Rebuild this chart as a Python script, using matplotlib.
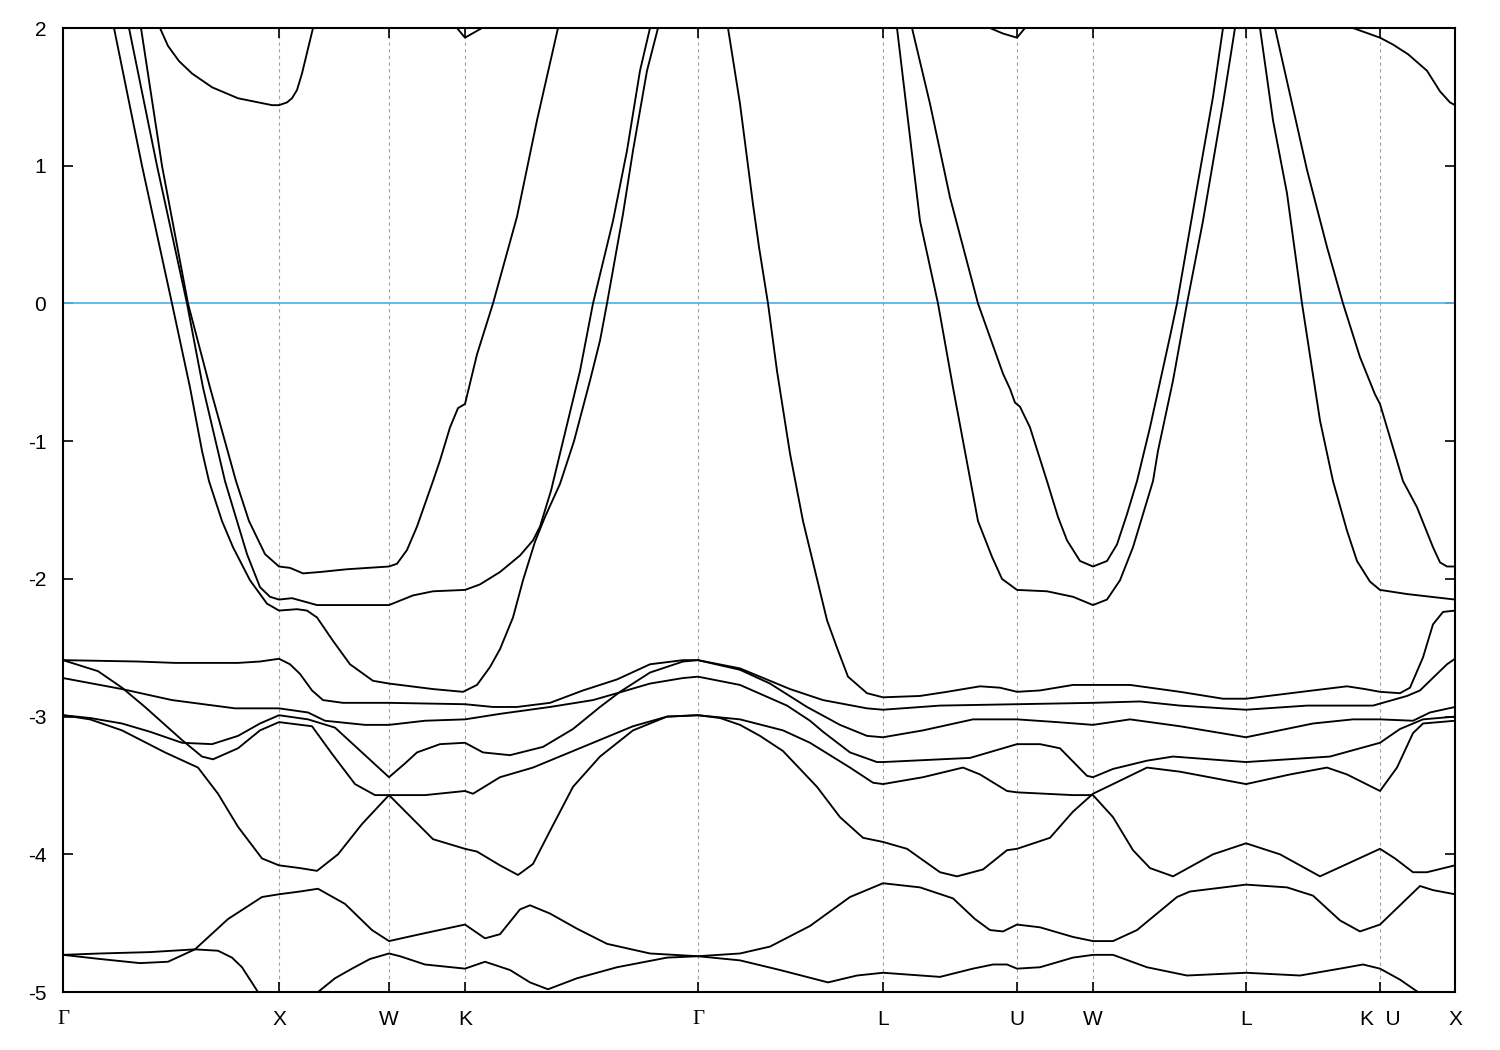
import numpy as np
import matplotlib.pyplot as plt

plt.rcParams['font.family'] = ['Liberation Sans', 'DejaVu Sans']
plt.rcParams['axes.unicode_minus'] = False

# high-symmetry points along the path (k-distance, arbitrary units)
kpath_pos = [0, 216, 326, 402, 635, 820, 954, 1030, 1183, 1317, 1392]
kpath_lab = ['Γ', 'X', 'W', 'K', 'Γ', 'L', 'U', 'W', 'L', 'K  U', 'X']

e_min, e_max = -5, 2
fermi = 0.0

# bands: (k, E [eV])
band_01 = [(0, -4.73), (37, -4.72), (87, -4.71), (132, -4.69), (155, -4.70), (169, -4.75),
           (179, -4.82), (195, -5.0), (225, -5.25), (255, -5.0), (272, -4.90), (289, -4.83),
           (307, -4.76), (326, -4.72), (337, -4.74), (362, -4.80), (402, -4.83), (422, -4.78),
           (447, -4.84), (467, -4.93), (485, -4.98), (514, -4.90), (554, -4.82), (604, -4.75),
           (635, -4.74), (677, -4.77), (717, -4.84), (765, -4.93), (794, -4.88), (820, -4.86),
           (877, -4.89), (910, -4.83), (930, -4.80), (944, -4.80), (954, -4.83), (977, -4.82),
           (1010, -4.75), (1030, -4.73), (1050, -4.73), (1084, -4.82), (1124, -4.88),
           (1183, -4.86), (1237, -4.88), (1277, -4.83), (1300, -4.80), (1317, -4.83),
           (1337, -4.91), (1355, -5.0), (1392, -5.2)]

band_02 = [(0, -4.73), (37, -4.76), (77, -4.79), (105, -4.78), (132, -4.69), (165, -4.47),
           (199, -4.31), (216, -4.29), (237, -4.27), (255, -4.25), (282, -4.36), (309, -4.55),
           (326, -4.63), (357, -4.58), (402, -4.51), (422, -4.61), (437, -4.58), (447, -4.49),
           (457, -4.40), (467, -4.37), (487, -4.43), (514, -4.54), (544, -4.65), (587, -4.72),
           (635, -4.74), (677, -4.72), (707, -4.67), (747, -4.52), (787, -4.31), (820, -4.21),
           (857, -4.24), (890, -4.32), (912, -4.47), (927, -4.55), (940, -4.56), (954, -4.51),
           (977, -4.53), (1010, -4.60), (1030, -4.63), (1050, -4.63), (1074, -4.55),
           (1114, -4.31), (1127, -4.27), (1183, -4.22), (1224, -4.24), (1250, -4.30),
           (1277, -4.48), (1297, -4.56), (1317, -4.51), (1337, -4.37), (1357, -4.23),
           (1370, -4.26), (1392, -4.29)]

band_03 = [(0, -2.99), (27, -3.02), (59, -3.10), (102, -3.26), (135, -3.37), (155, -3.56),
           (175, -3.80), (199, -4.03), (216, -4.08), (237, -4.10), (254, -4.12), (275, -4.00),
           (299, -3.78), (326, -3.57), (337, -3.65), (370, -3.89), (402, -3.96), (414, -3.98),
           (437, -4.08), (455, -4.15), (470, -4.07), (487, -3.83), (510, -3.51), (537, -3.29),
           (570, -3.10), (604, -3.00), (635, -2.99), (657, -3.01), (677, -3.06), (697, -3.14),
           (720, -3.25), (754, -3.51), (777, -3.73), (800, -3.88), (820, -3.91), (844, -3.96),
           (877, -4.13), (894, -4.16), (920, -4.11), (944, -3.97), (954, -3.96), (987, -3.88),
           (1010, -3.69), (1030, -3.56), (1050, -3.49), (1084, -3.37), (1117, -3.40),
           (1183, -3.49), (1227, -3.42), (1264, -3.37), (1284, -3.42), (1317, -3.54),
           (1334, -3.37), (1350, -3.12), (1360, -3.05), (1392, -3.03)]

band_04 = [(0, -2.59), (35, -2.67), (59, -2.79), (82, -2.93), (119, -3.17), (139, -3.29),
           (150, -3.31), (175, -3.23), (197, -3.10), (216, -3.04), (249, -3.07), (269, -3.27),
           (292, -3.49), (312, -3.57), (326, -3.57), (362, -3.57), (402, -3.54), (410, -3.56),
           (437, -3.44), (470, -3.37), (520, -3.22), (570, -3.07), (604, -3.00), (635, -2.99),
           (677, -3.02), (720, -3.10), (747, -3.19), (787, -3.37), (810, -3.48), (820, -3.49),
           (860, -3.44), (900, -3.37), (917, -3.42), (944, -3.54), (954, -3.55), (1010, -3.57),
           (1030, -3.57), (1050, -3.73), (1070, -3.97), (1087, -4.10), (1110, -4.16),
           (1150, -4.00), (1183, -3.92), (1217, -4.00), (1257, -4.16), (1284, -4.07),
           (1317, -3.96), (1332, -4.03), (1350, -4.13), (1364, -4.13), (1392, -4.08)]

band_05 = [(0, -2.99), (27, -3.01), (59, -3.05), (87, -3.11), (119, -3.19), (149, -3.20),
           (175, -3.14), (197, -3.05), (216, -2.99), (245, -3.02), (272, -3.08), (299, -3.26),
           (326, -3.44), (342, -3.34), (354, -3.26), (377, -3.20), (402, -3.19), (420, -3.26),
           (447, -3.28), (480, -3.22), (510, -3.09), (537, -2.93), (557, -2.82), (587, -2.68),
           (620, -2.60), (635, -2.59), (677, -2.66), (707, -2.76), (744, -2.93), (777, -3.06),
           (804, -3.14), (820, -3.15), (860, -3.10), (910, -3.02), (954, -3.02), (994, -3.04),
           (1030, -3.06), (1067, -3.02), (1117, -3.07), (1183, -3.15), (1250, -3.05),
           (1290, -3.02), (1317, -3.02), (1350, -3.03), (1367, -2.97), (1392, -2.93)]

band_06 = [(0, -2.72), (59, -2.80), (109, -2.88), (172, -2.94), (216, -2.94), (245, -2.97),
           (262, -3.03), (302, -3.06), (326, -3.06), (362, -3.03), (402, -3.02), (437, -2.98),
           (487, -2.93), (530, -2.88), (554, -2.83), (587, -2.76), (620, -2.72), (635, -2.71),
           (677, -2.77), (724, -2.92), (747, -3.03), (760, -3.11), (787, -3.26), (814, -3.33),
           (820, -3.33), (907, -3.30), (954, -3.20), (977, -3.20), (997, -3.23), (1024, -3.43),
           (1030, -3.44), (1050, -3.38), (1084, -3.32), (1110, -3.29), (1183, -3.33),
           (1267, -3.29), (1317, -3.19), (1337, -3.09), (1360, -3.02), (1392, -3.00)]

band_07 = [(0, -2.59), (75, -2.60), (112, -2.61), (175, -2.61), (197, -2.60), (216, -2.58),
           (227, -2.62), (237, -2.69), (249, -2.81), (260, -2.88), (280, -2.90), (326, -2.90),
           (402, -2.91), (430, -2.93), (454, -2.93), (487, -2.90), (520, -2.81), (554, -2.73),
           (587, -2.62), (620, -2.59), (635, -2.59), (677, -2.65), (727, -2.80), (760, -2.88),
           (804, -2.94), (820, -2.95), (877, -2.92), (954, -2.91), (1030, -2.90), (1077, -2.89),
           (1117, -2.92), (1160, -2.94), (1183, -2.95), (1244, -2.92), (1310, -2.92),
           (1344, -2.85), (1357, -2.81), (1374, -2.69), (1384, -2.62), (1392, -2.58)]

band_08 = [(45, 2.2), (51, 2.0), (79, 1.0), (109, 0.0), (127, -0.61), (139, -1.07),
           (146, -1.29), (159, -1.58), (170, -1.77), (187, -2.01), (204, -2.18), (216, -2.23),
           (234, -2.22), (244, -2.23), (254, -2.28), (270, -2.45), (287, -2.62), (310, -2.74),
           (326, -2.76), (370, -2.80), (400, -2.82), (414, -2.77), (427, -2.64), (437, -2.51),
           (450, -2.28), (460, -2.01), (472, -1.73), (482, -1.55), (497, -1.31), (511, -1.00),
           (527, -0.56), (537, -0.27), (544, 0.0), (560, 0.65), (570, 1.11), (584, 1.69),
           (595, 2.0), (599, 2.2)]

band_09 = [(61, 2.2), (66, 2.0), (94, 1.0), (124, 0.0), (140, -0.61), (162, -1.29),
           (174, -1.58), (184, -1.82), (197, -2.06), (207, -2.13), (216, -2.15), (229, -2.14),
           (254, -2.19), (326, -2.19), (350, -2.12), (370, -2.09), (402, -2.08), (417, -2.04),
           (437, -1.95), (457, -1.83), (470, -1.72), (477, -1.62), (488, -1.36), (500, -1.00),
           (517, -0.49), (530, 0.0), (550, 0.60), (564, 1.11), (577, 1.69), (587, 2.0),
           (591, 2.2)]

band_10 = [(73, 2.2), (78, 2.0), (99, 1.0), (125, 0.0), (147, -0.61), (173, -1.29),
           (186, -1.58), (202, -1.82), (216, -1.91), (227, -1.92), (240, -1.96), (257, -1.95),
           (284, -1.93), (326, -1.91), (334, -1.89), (344, -1.79), (354, -1.62), (370, -1.29),
           (377, -1.14), (387, -0.90), (395, -0.76), (402, -0.73), (414, -0.37), (430, 0.0),
           (454, 0.63), (474, 1.33), (495, 2.0), (500, 2.2)]

band_11 = [(93, 2.15), (97, 2.0), (105, 1.87), (116, 1.76), (129, 1.67), (149, 1.57),
           (175, 1.49), (209, 1.44), (216, 1.44), (224, 1.46), (229, 1.49), (234, 1.55),
           (239, 1.67), (250, 2.0), (253, 2.15)]

band_12 = [(389, 2.15), (394, 2.0), (402, 1.93), (419, 2.0), (432, 2.08)]

band_13 = [(917, 2.05), (927, 2.0), (940, 1.96), (954, 1.93), (962, 2.0), (967, 2.1)]

band_14 = [(1277, 2.05), (1290, 2.0), (1317, 1.93), (1330, 1.88), (1345, 1.81),
           (1364, 1.69), (1377, 1.54), (1387, 1.46), (1392, 1.44)]

band_15 = [(663, 2.15), (665, 2.0), (677, 1.45), (690, 0.72), (696, 0.41), (705, 0.0),
           (714, -0.49), (727, -1.09), (740, -1.58), (764, -2.30), (774, -2.50), (785, -2.71),
           (804, -2.83), (820, -2.86), (857, -2.85), (884, -2.82), (917, -2.78), (937, -2.79),
           (954, -2.82), (977, -2.81), (1010, -2.77), (1030, -2.77), (1067, -2.77),
           (1117, -2.82), (1160, -2.87), (1183, -2.87), (1250, -2.81), (1284, -2.78),
           (1302, -2.80), (1317, -2.82), (1337, -2.83), (1347, -2.79), (1360, -2.57),
           (1370, -2.33), (1380, -2.24), (1392, -2.23)]

band_16 = [(831, 2.2), (834, 2.0), (857, 0.60), (875, 0.0), (890, -0.61), (915, -1.58),
           (929, -1.84), (939, -2.00), (954, -2.08), (984, -2.09), (1010, -2.13), (1030, -2.19),
           (1044, -2.15), (1057, -2.01), (1070, -1.77), (1080, -1.53), (1090, -1.29),
           (1095, -1.07), (1110, -0.56), (1124, 0.0), (1140, 0.60), (1160, 1.45), (1172, 2.0),
           (1176, 2.2)]

band_17 = [(846, 2.2), (849, 2.0), (867, 1.45), (887, 0.77), (915, 0.0), (940, -0.51),
           (947, -0.62), (952, -0.72), (957, -0.75), (967, -0.90), (984, -1.29), (995, -1.55),
           (1004, -1.72), (1017, -1.87), (1030, -1.91), (1044, -1.87), (1054, -1.75),
           (1064, -1.53), (1074, -1.29), (1087, -0.90), (1107, -0.24), (1114, 0.0),
           (1134, 0.84), (1150, 1.50), (1160, 2.0), (1163, 2.2)]

band_18 = [(1194, 2.2), (1197, 2.0), (1210, 1.33), (1224, 0.80), (1239, 0.0), (1257, -0.85),
           (1270, -1.29), (1284, -1.65), (1294, -1.87), (1307, -2.02), (1317, -2.08),
           (1344, -2.11), (1392, -2.15)]

band_19 = [(1207, 2.2), (1212, 2.0), (1244, 0.97), (1264, 0.41), (1280, 0.0), (1297, -0.39),
           (1312, -0.66), (1317, -0.73), (1340, -1.29), (1354, -1.48), (1370, -1.77),
           (1377, -1.88), (1384, -1.91), (1392, -1.91)]

bands = [band_01, band_02, band_03, band_04, band_05, band_06, band_07, band_08, band_09,
         band_10, band_11, band_12, band_13, band_14, band_15, band_16, band_17, band_18,
         band_19]

fig, ax = plt.subplots(figsize=(15, 10.5), dpi=100)
fig.subplots_adjust(left=0.042, right=0.970, bottom=0.0552, top=0.9733)

# vertical guides at the inner k-points
for k in kpath_pos[1:-1]:
    ax.axvline(k, color='#a0a0a0', lw=0.8, ls=(0, (3, 3)), zorder=1)

ax.axhline(fermi, color='#56b4e9', lw=1.3, zorder=2)

for b in bands:
    arr = np.array(b)
    ax.plot(arr[:, 0], arr[:, 1], color='black', lw=1.35, zorder=3)

ax.set_xlim(kpath_pos[0], kpath_pos[-1])
ax.set_ylim(e_min, e_max)

ax.set_yticks(np.arange(e_min, e_max + 1))
ax.set_xticks(kpath_pos)
labels = ax.set_xticklabels(kpath_lab)
for t in labels:
    if t.get_text() == 'Γ':
        t.set_fontfamily(['Liberation Serif', 'DejaVu Serif'])
        t.set_fontsize(16)

ax.tick_params(axis='both', direction='in', length=7, width=1.2,
               top=True, right=True, labelsize=15, colors='black')
ax.tick_params(axis='y', pad=12)
ax.tick_params(axis='x', pad=13)
for s in ax.spines.values():
    s.set_linewidth(1.5)

plt.savefig('out.png', dpi=100)
